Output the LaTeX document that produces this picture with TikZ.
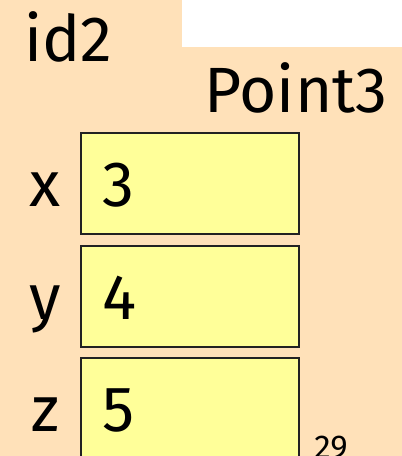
\documentclass[tikz,border=0pt]{standalone}
\usepackage{fontspec}
\setmainfont{Fira Sans}
\usepackage{xcolor}
\definecolor{cPeach}{HTML}{FFE1B9}
\definecolor{cField}{HTML}{FFFF99}
\definecolor{cLine}{HTML}{222222}
\usepackage{tikz}
\usetikzlibrary{positioning}
\tikzset{
  big-text/.style={font=\fontsize{45.5}{54}\selectfont,inner sep=0pt,anchor=base west},
  small-text/.style={font=\fontsize{23.5}{28}\selectfont,inner sep=0pt,anchor=base west},
  field-box/.style={draw=cLine,line width=1.2pt,fill=cField,anchor=north west,
    minimum width=5.45cm,minimum height=2.525cm,inner sep=0pt},
  field-name/.style={font=\fontsize{45.5}{54}\selectfont,inner sep=0pt,anchor=base},
}

\begin{document}
\begin{tikzpicture}[x=0.025cm,y=-0.025cm]
  \useasboundingbox (0,0) rectangle (402,456);
  \clip (0,0) rectangle (402,456);
  \fill[cPeach] (0,0) rectangle (402,456);
  \fill[white] (182,0) rectangle (402,47);
  \node[big-text] (id) at (24,61) {id2};
  \node[big-text] (cls) at (204,112) {Point3};
  % fields
  \node[field-box] (bx) at (80,132) {};
  \node[field-box] (by) at (80,245) {};
  \node[field-box] (bz) at (80,357) {};
  \node[field-name] (nx) at (45,206) {x};
  \node[field-name] (ny) at (45,319) {y};
  \node[field-name] (nz) at (45,431) {z};
  \node[big-text] (vx) at (102,206) {3};
  \node[big-text] (vy) at (102,319) {4};
  \node[big-text] (vz) at (102,431) {5};
  \node[small-text] (page) at (314,458) {29};
\end{tikzpicture}
\end{document}
